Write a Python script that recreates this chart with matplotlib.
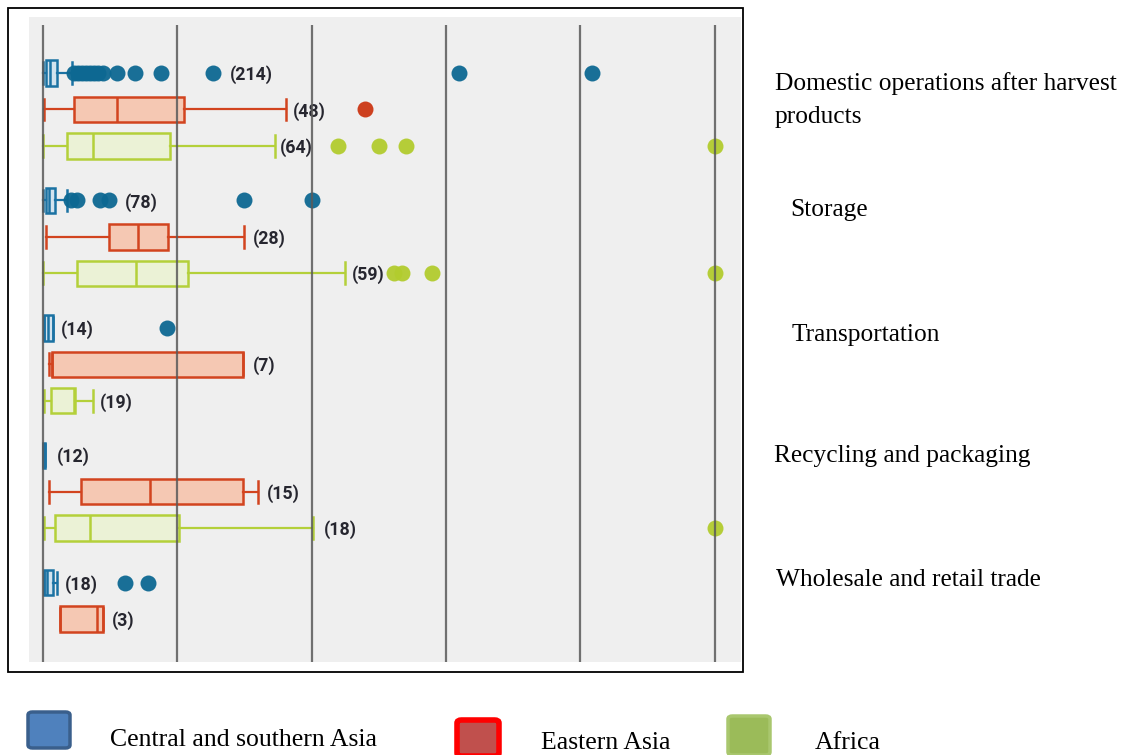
import matplotlib
matplotlib.use("Agg")
import matplotlib.pyplot as plt
from matplotlib.patches import Rectangle, FancyBboxPatch

# ---------------------------------------------------------------------------
# Data (x in grid units, one grid = 10)
# ---------------------------------------------------------------------------
stages = ["Domestic operations after harvest\nproducts", "Storage", "Transportation",
          "Recycling and packaging", "Wholesale and retail trade"]
regions = ["Central and southern Asia", "Eastern Asia", "Africa"]

# one entry per box: (stage index, region index)
box_stage = [0, 0, 0, 1, 1, 1, 2, 2, 2, 3, 3, 3, 4, 4]
box_region = [0, 1, 2, 0, 1, 2, 0, 1, 2, 0, 1, 2, 0, 1]
whislo = [0.0, 0.1, 0.0, 0.0, 0.22, 0.0, 0.07, 0.47, 0.07, 0.0, 0.47, 0.07, 0.07, 1.27]
q1 = [0.22, 2.28, 1.8, 0.22, 4.9, 2.55, 0.07, 0.65, 0.57, 0.0, 2.8, 0.9, 0.07, 1.27]
med = [0.52, 5.5, 3.7, 0.45, 7.1, 6.9, 0.37, 0.65, 2.3, 0.07, 7.97, 3.5, 0.3, 4.0]
q3 = [1.04, 10.5, 9.45, 0.9, 9.3, 10.8, 0.72, 14.9, 2.38, 0.15, 14.9, 10.1, 0.77, 4.45]
whishi = [2.16, 18.1, 17.3, 1.76, 15.0, 22.5, 0.72, 14.9, 3.7, 0.15, 16.0, 20.1, 1.07, 4.45]
fliers = [
    [2.3, 2.6, 2.9, 3.2, 3.5, 3.8, 4.1, 4.5, 5.5, 6.85, 8.8, 12.66, 31.0, 40.9],
    [24.0],
    [22.0, 25.0, 27.0, 50.0],
    [2.1, 2.5, 4.25, 4.9, 15.0, 20.0],
    [],
    [26.1, 26.7, 29.0, 50.0],
    [9.2],
    [],
    [],
    [],
    [],
    [50.0],
    [6.1, 7.8],
    [],
]
counts = [214, 48, 64, 78, 28, 59, 14, 7, 19, 12, 15, 18, 18, 3]

# layout: where each "(n)" label starts, in data units
label_x = [13.9, 18.6, 17.65, 6.1, 15.6, 23.0, 1.3, 15.6, 4.25, 1.0, 16.65, 20.9, 1.64, 5.1]

edge_colors = ["#1b72a3", "#d2441f", "#b4d03a"]
fill_colors = ["#d2e3ee", "#f5c8b3", "#ebf2d6"]
dot_colors = ["#0d6892", "#cc3614", "#b2cc2e"]
legend_fill = ["#4f81bd", "#c0504d", "#9bbb59"]
legend_edge = ["#3a5f8c", "#ff0000", "#a9c76e"]

W, H = 1123, 755
fig = plt.figure(figsize=(W / 100, H / 100), dpi=100)


def fx(px):
    return px / W


def fy(py):
    return 1 - py / H


# outer frame
fig.patches.append(Rectangle((fx(8), fy(672)), fx(743) - fx(8), fy(8) - fy(672),
                             transform=fig.transFigure, fill=False,
                             edgecolor="black", linewidth=1.3, zorder=0))

ax = fig.add_axes([fx(29), fy(662), fx(741) - fx(29), fy(17) - fy(662)])
ax.set_facecolor("#efefef")
for s in ax.spines.values():
    s.set_visible(False)
ax.set_xticks([])
ax.set_yticks([])
ax.set_xlim(-1.04, 51.97)
ax.set_ylim(16.18, -1.54)

pos = [g * 3.5 + r for g, r in zip(box_stage, box_region)]

for i in range(len(pos)):
    r = box_region[i]
    st = dict(med=med[i], q1=q1[i], q3=q3[i], whislo=whislo[i],
              whishi=whishi[i], fliers=fliers[i])
    ax.bxp([st], positions=[pos[i]], vert=False, widths=0.7, capwidths=0.6,
           patch_artist=True, manage_ticks=False,
           boxprops=dict(facecolor=fill_colors[r], edgecolor=edge_colors[r], linewidth=1.8),
           medianprops=dict(color=edge_colors[r], linewidth=1.8),
           whiskerprops=dict(color=edge_colors[r], linewidth=1.6),
           capprops=dict(color=edge_colors[r], linewidth=1.8),
           flierprops=dict(marker="o", markersize=11.5, markerfacecolor=dot_colors[r],
                           markeredgecolor="none", alpha=0.95))
    ax.text(label_x[i], pos[i] + 0.05, f"({counts[i]})", ha="left", va="center",
            fontsize=12.8, fontweight="bold", fontstretch="condensed", color="#26262f",
            family=["DejaVu Sans Condensed", "Roboto"])

# vertical grid lines on top of the boxes
ax.vlines([0, 10, 20, 30, 40, 50], -1.32, 16.18, colors="#5a5a5a",
          linewidth=1.6, alpha=0.85, zorder=5)

# stage names on the right
stage_px = [(775, 100), (790, 210), (792, 335), (774, 456), (776, 580)]
for name, (px, py) in zip(stages, stage_px):
    fig.text(fx(px), fy(py), name, ha="left", va="center", fontsize=18.3,
             family="Liberation Serif", linespacing=1.65)

# legend at the bottom
leg_boxes = [(28, 712, 42, 36), (457, 720, 42, 36), (728, 716, 42, 39)]
leg_text = [(110, 740), (541, 743), (815, 743)]
for i, name in enumerate(regions):
    bx, by, bw, bh = leg_boxes[i]
    lw = 4 if i == 1 else 2.5
    fig.patches.append(FancyBboxPatch((fx(bx), fy(by + bh)), fx(bw), bh / H,
                                      boxstyle="round,pad=0,rounding_size=0.004",
                                      transform=fig.transFigure,
                                      facecolor=legend_fill[i], edgecolor=legend_edge[i],
                                      linewidth=lw))
    tx, ty = leg_text[i]
    fig.text(fx(tx), fy(ty), name, ha="left", va="center", fontsize=18.5,
             family="Liberation Serif")

fig.savefig("out.png", dpi=100)
